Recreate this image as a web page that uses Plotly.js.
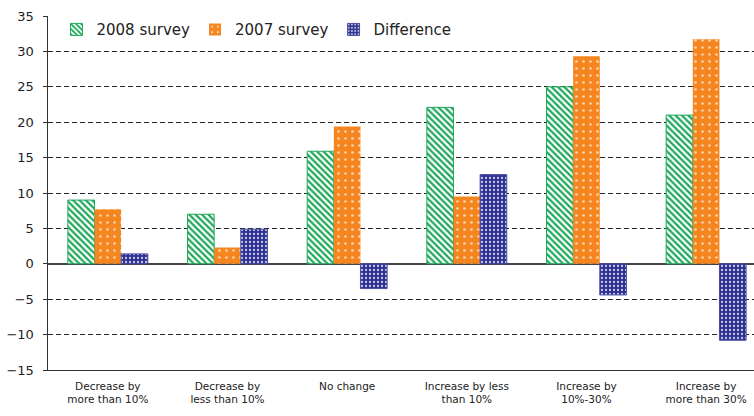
<!DOCTYPE html>
<html>
<head>
<meta charset="utf-8">
<script src="https://cdn.plot.ly/plotly-3.0.1.min.js"></script>
<style>html,body{margin:0;padding:0;background:#fff;}#chart{width:754px;height:416px;}</style>
</head>
<body>
<div id="chart"></div>
<script>
const categories = ["Decrease by<br>more than 10%", "Decrease by<br>less than 10%", "No change", "Increase by less<br>than 10%", "Increase by<br>10%-30%", "Increase by<br>more than 30%"];
const survey2008 = [9.0, 7.0, 15.9, 22.1, 25.0, 21.0];
const survey2007 = [7.7, 2.3, 19.4, 9.5, 29.3, 31.7];
const difference = [1.4, 4.9, -3.5, 12.6, -4.4, -10.8];
const seriesNames = ["2008 survey", "2007 survey", "Difference"];

const green = "#1ea85a", orange = "#f5861f", navy = "#2e3192";

const traces = [
  {type: "bar", name: seriesNames[0], x: categories, y: survey2008,
   marker: {color: green, line: {color: green, width: 1},
     pattern: {shape: "\\", fgcolor: green, bgcolor: "#ffffff", size: 4.5, solidity: 0.5, fillmode: "replace"}}},
  {type: "bar", name: seriesNames[1], x: categories, y: survey2007,
   marker: {color: orange, line: {color: orange, width: 0},
     pattern: {shape: ".", fgcolor: "#fbd2a8", bgcolor: orange, size: 7, solidity: 0.12, fillmode: "replace"}}},
  {type: "bar", name: seriesNames[2], x: categories, y: difference,
   marker: {color: navy, line: {color: "#4a4ea2", width: 1},
     pattern: {shape: ".", fgcolor: "#c8c9e6", bgcolor: navy, size: 4, solidity: 0.25, fillmode: "replace"}}}
];

const layout = {
  width: 754, height: 416,
  margin: {l: 47.5, r: 0, t: 15.5, b: 45.5},
  paper_bgcolor: "#ffffff", plot_bgcolor: "#ffffff",
  font: {family: "DejaVu Sans, Arial, sans-serif", color: "#222222"},
  barmode: "group", bargap: 0.332, bargroupgap: 0,
  showlegend: true,
  legend: {orientation: "h", x: 0.012, xanchor: "left", y: 1.008, yanchor: "top",
    font: {size: 15, color: "#222"}, bgcolor: "rgba(0,0,0,0)", traceorder: "normal"},
  xaxis: {type: "category", range: [-0.5, 5.4], showgrid: false, zeroline: false,
    showline: true, linecolor: "#333333", linewidth: 1, ticks: "",
    tickfont: {size: 10.5, color: "#222"}, ticklabelstandoff: 6, automargin: false},
  yaxis: {range: [-15, 35], dtick: 5, tick0: 0, showgrid: true, gridcolor: "#222222", gridwidth: 1,
    griddash: "5px,3px", zeroline: true, zerolinecolor: "#444444", zerolinewidth: 1.5,
    showline: true, linecolor: "#333333", linewidth: 1.5, ticks: "outside", ticklen: 4, tickcolor: "#333",
    tickfont: {size: 13, color: "#222"}, ticklabelstandoff: 6, automargin: false}
};

Plotly.newPlot("chart", traces, layout, {displayModeBar: false, staticPlot: true});
</script>
</body>
</html>
